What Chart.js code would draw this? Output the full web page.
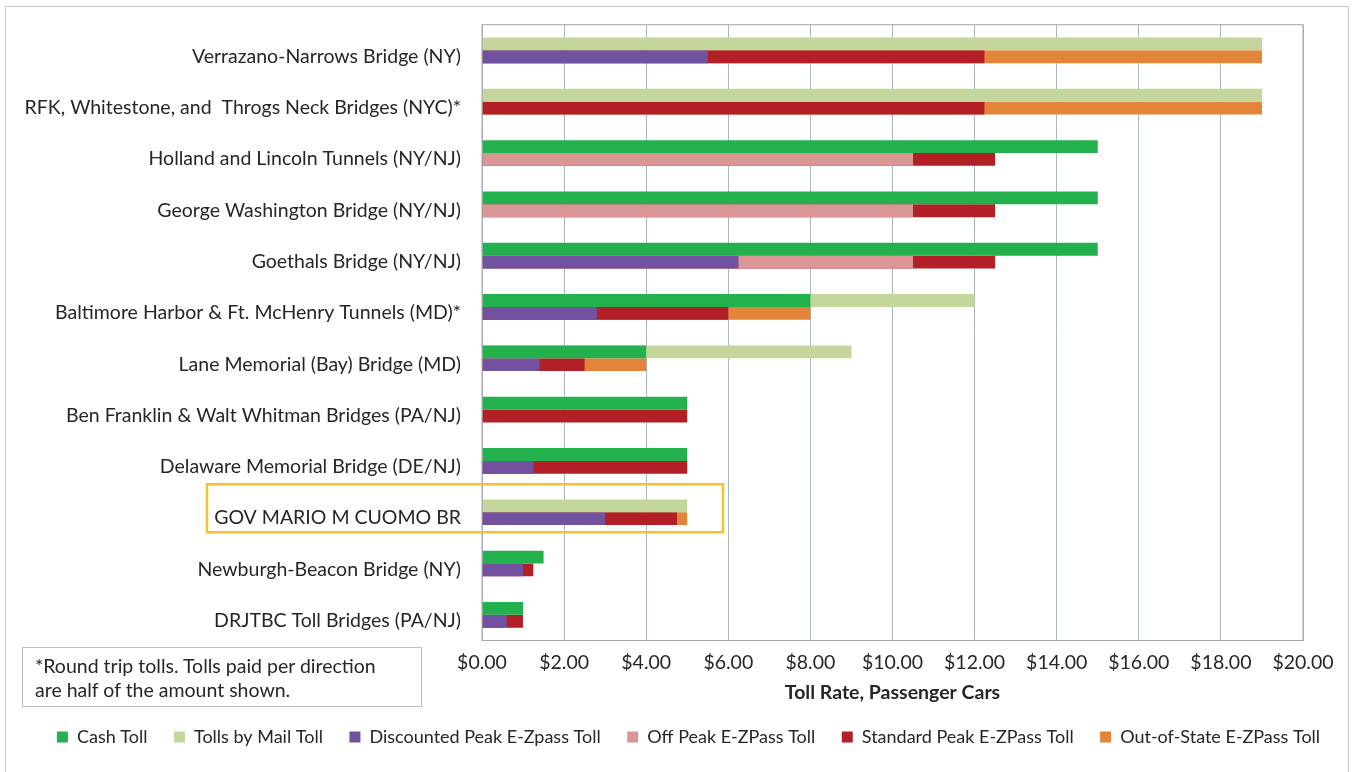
<!DOCTYPE html>
<html>
<head>
<script src="https://cdn.jsdelivr.net/npm/chart.js@4.4.1/dist/chart.umd.min.js"></script>
<style>
  body { margin: 0; background: #fff; }
  #outer { position: relative; width: 1352px; height: 772px; overflow: hidden; }
  #frame { position: absolute; left: 5px; top: 6px; width: 1342px; height: 780px; border: 1px solid #c8c8c8; }
  #note {
    position: absolute; left: 22px; top: 647px; width: 386px; height: 47px;
    border: 1.5px solid #bfbfbf; padding: 6px 0 5px 12px;
    font-family: Lato, sans-serif; font-size: 19.5px; line-height: 24px; color: #262626;
    white-space: nowrap;
  }
  canvas { position: absolute; left: 0; top: 0; }
</style>
</head>
<body>
<div id="outer">
  <div id="frame"></div>
  <canvas id="tolls" width="1352" height="772"></canvas>
  <div id="note">*Round trip tolls. Tolls paid per direction<br>are half of the amount shown.</div>
</div>

<script>
var bridges = [
  'Verrazano-Narrows Bridge (NY)',
  'RFK, Whitestone, and  Throgs Neck Bridges (NYC)*',
  'Holland and Lincoln Tunnels (NY/NJ)',
  'George Washington Bridge (NY/NJ)',
  'Goethals Bridge (NY/NJ)',
  'Baltimore Harbor & Ft. McHenry Tunnels (MD)*',
  'Lane Memorial (Bay) Bridge (MD)',
  'Ben Franklin & Walt Whitman Bridges (PA/NJ)',
  'Delaware Memorial Bridge (DE/NJ)',
  'GOV MARIO M CUOMO BR',
  'Newburgh-Beacon Bridge (NY)',
  'DRJTBC Toll Bridges (PA/NJ)'
]

// values in dollars, null = no such toll
var cashToll       = [null, null, 15, 15, 15, 8, 4, 5, 5, null, 1.5, 1]
var mailToll       = [19, 19, null, null, null, 12, 9, null, null, 5, null, null]
var discountedPeak = [5.5, null, null, null, 6.25, 2.8, 1.4, null, 1.25, 3, 1, 0.6]
var offPeak        = [null, null, 10.5, 10.5, 10.5, null, null, null, null, null, null, null]
var standardPeak   = [12.24, 12.24, 12.5, 12.5, 12.5, 6, 2.5, 5, 5, 4.75, 1.25, 1]
var outOfState     = [19, 19, null, null, null, 8, 4, null, null, 5, null, null]

var xTicks = [0, 2, 4, 6, 8, 10, 12, 14, 16, 18, 20]

var font = 'Lato'
var fontSize = 19.5
var textColor = '#262626'
var gridColor = '#a9b7c4'

// box around the GOV MARIO row + outline of the plot
var extras = {
  id: 'extras',
  afterDraw: function (chart) {
    var ctx = chart.ctx
    var a = chart.chartArea
    ctx.save()
    ctx.strokeStyle = '#a6a6a6'
    ctx.lineWidth = 1
    ctx.strokeRect(a.left, a.top, a.right - a.left, a.bottom - a.top)

    var y = chart.scales.y.getPixelForValue(9)
    ctx.strokeStyle = '#f2c232'
    ctx.lineWidth = 2.5
    ctx.strokeRect(207, y - 28, 516, 48)
    ctx.restore()
  }
}

var ctx = document.getElementById('tolls').getContext('2d')
var chart = new Chart(ctx, {
  type: 'bar',
  data: {
    labels: bridges,
    datasets: [
      { label: 'Cash Toll', data: cashToll, backgroundColor: '#22b14c', stack: 'top' },
      { label: 'Tolls by Mail Toll', data: mailToll, backgroundColor: '#c3d69b', stack: 'top' },
      { label: 'Discounted Peak E-Zpass Toll', data: discountedPeak, backgroundColor: '#7251a0', stack: 'bottom' },
      { label: 'Off Peak E-ZPass Toll', data: offPeak, backgroundColor: '#d99694', stack: 'bottom' },
      { label: 'Standard Peak E-ZPass Toll', data: standardPeak, backgroundColor: '#b21f26', stack: 'bottom' },
      { label: 'Out-of-State E-ZPass Toll', data: outOfState, backgroundColor: '#e2843a', stack: 'bottom' }
    ]
  },
  options: {
    indexAxis: 'y',
    responsive: false,
    animation: false,
    categoryPercentage: 0.5,
    barPercentage: 1,
    layout: { padding: { left: 25, right: 0, top: 24, bottom: 16 } },
    scales: {
      x: {
        stacked: false,
        min: 0, max: 20,
        afterBuildTicks: function (s) { s.ticks = xTicks.map(function (v) { return { value: v } }) },
        afterFit: function (s) { s.height = 61; s.paddingRight = 49 },
        grid: { color: gridColor, drawTicks: false },
        border: { color: '#a6a6a6' },
        ticks: {
          padding: 11,
          color: textColor,
          font: { family: font, size: fontSize }
        },
        title: {
          display: true,
          text: 'Toll Rate, Passenger Cars',
          color: textColor,
          font: { family: font, size: fontSize, weight: 'bold' },
          padding: { top: 0, bottom: -2.7 }
        }
      },
      y: {
        stacked: true,
        afterFit: function (s) { s.width = 457 },
        grid: { display: false },
        border: { color: gridColor },
        ticks: {
          padding: 13,
          labelOffset: 6,
          color: textColor,
          font: { family: font, size: fontSize }
        }
      }
    },
    plugins: {
      legend: {
        position: 'bottom',
        labels: {
          boxWidth: 11, boxHeight: 11,
          padding: 26.5,
          color: textColor,
          font: { family: font, size: 18 }
        }
      },
      tooltip: { enabled: false }
    }
  },
  plugins: [extras]
})

chart.options.scales.x.ticks.callback = function (v) { return '$' + v.toFixed(2) }
chart.update()
</script>
</body>
</html>
